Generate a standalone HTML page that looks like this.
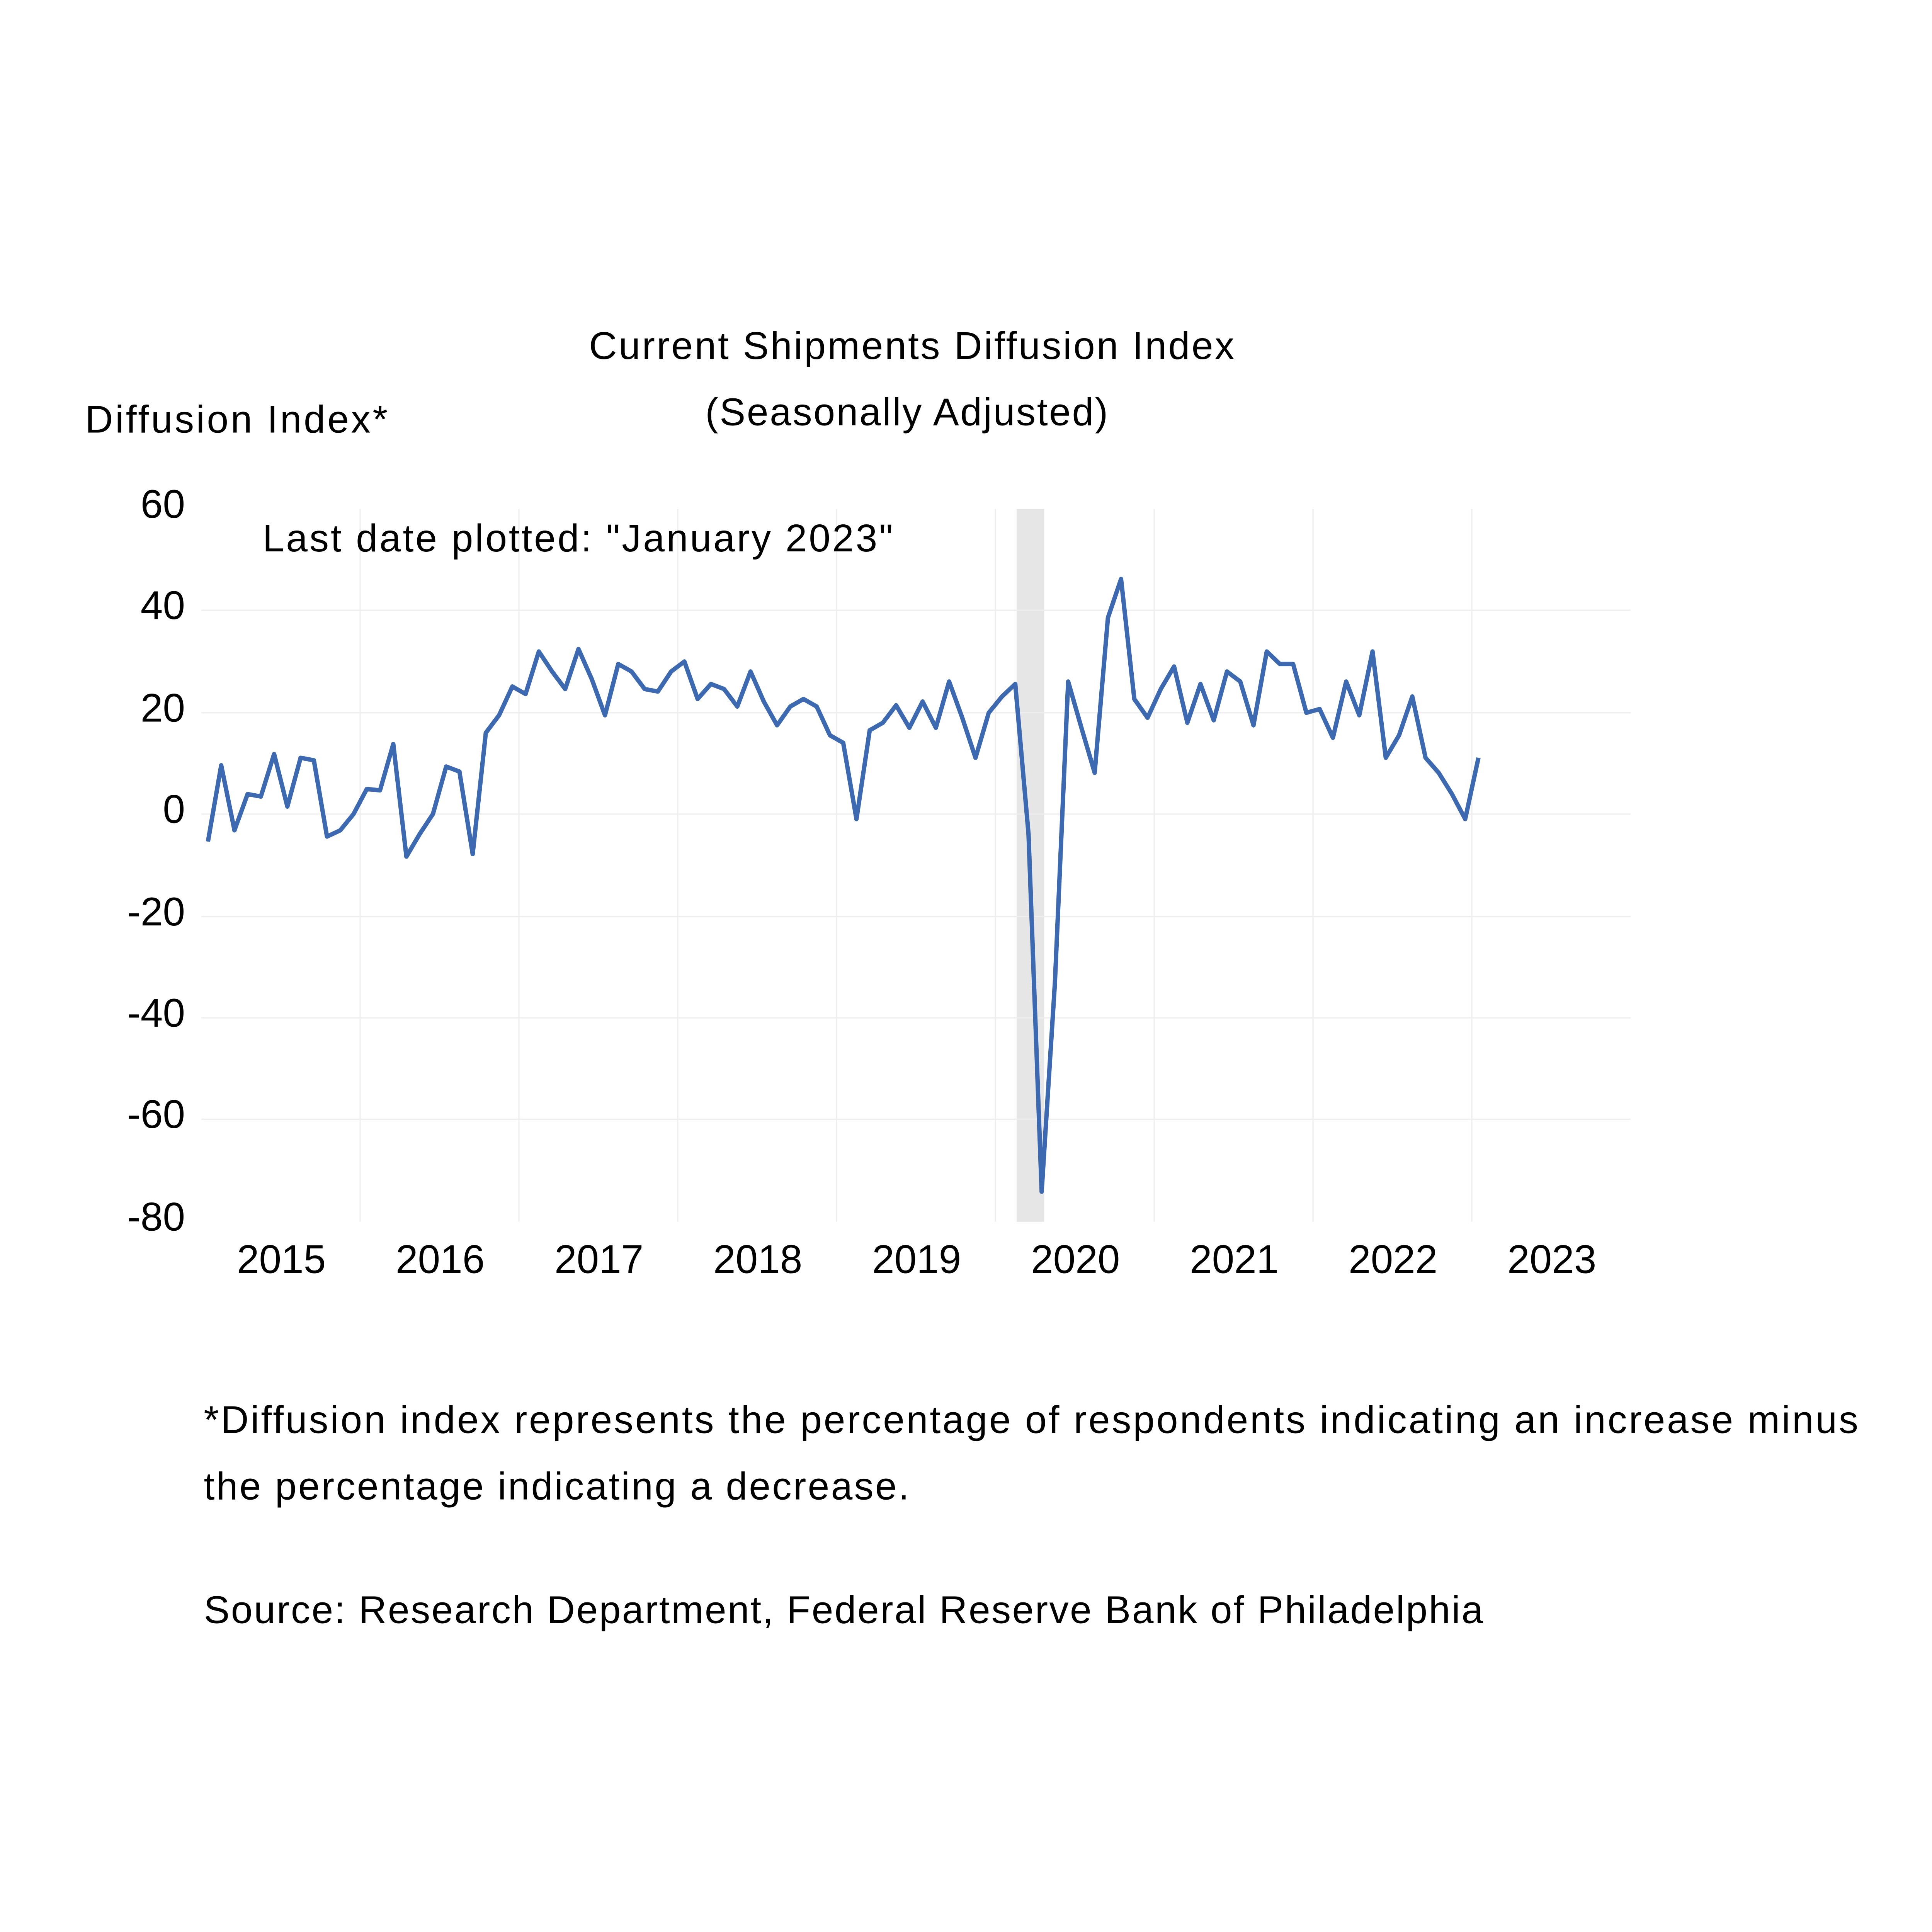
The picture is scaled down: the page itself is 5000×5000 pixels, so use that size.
<!DOCTYPE html>
<html><head><meta charset="utf-8"><style>html,body{margin:0;padding:0;background:#fff}svg{display:block}</style></head>
<body>
<svg width="5000" height="5000" viewBox="0 0 1545 1545" xmlns="http://www.w3.org/2000/svg" font-family="'Liberation Sans', sans-serif" fill="#000">
<rect width="1545" height="1545" fill="#fff"/>
<rect x="813" y="407" width="22" height="570" fill="#e6e6e6"/>
<g stroke="#eeeeee" stroke-width="1">
<line x1="161" y1="488" x2="1304" y2="488"/><line x1="161" y1="570" x2="1304" y2="570"/>
<line x1="161" y1="651" x2="1304" y2="651"/><line x1="161" y1="733" x2="1304" y2="733"/>
<line x1="161" y1="814" x2="1304" y2="814"/><line x1="161" y1="895" x2="1304" y2="895"/>
<line x1="288" y1="407" x2="288" y2="977"/><line x1="415" y1="407" x2="415" y2="977"/>
<line x1="542" y1="407" x2="542" y2="977"/><line x1="669" y1="407" x2="669" y2="977"/>
<line x1="796" y1="407" x2="796" y2="977"/><line x1="923" y1="407" x2="923" y2="977"/>
<line x1="1050" y1="407" x2="1050" y2="977"/><line x1="1177" y1="407" x2="1177" y2="977"/>
</g>
<polyline fill="none" stroke="#3c69b0" stroke-width="3.5" stroke-linejoin="round" points="
166.3,673 176.9,612 187.5,664 198.0,635 208.6,637 219.2,603 229.8,645 240.4,606 251.0,608 261.5,669 272.1,664 282.7,651
293.3,631 303.9,632 314.5,595 325.0,685 335.6,667 346.2,651 356.8,613 367.4,617 378.0,683 388.5,586 399.1,572 409.7,549
420.3,555 430.9,521 441.5,537 452.0,551 462.6,519 473.2,543 483.8,572 494.4,531 505.0,537 515.5,551 526.1,553 536.7,537
547.3,529 557.9,559 568.5,547 579.0,551 589.6,565 600.2,537 610.8,561 621.4,580 632.0,565 642.5,559 653.1,565 663.7,588
674.3,594 684.9,655 695.5,584 706.0,578 716.6,564 727.2,582 737.8,561 748.4,582 759.0,545 769.5,574 780.1,606 790.7,570
801.3,557 811.9,547 822.5,667 833.0,953 843.6,786 854.2,545 864.8,582 875.4,618 886.0,494 896.5,463 907.1,559 917.7,574
928.3,551 938.9,533 949.5,578 960.0,547 970.6,576 981.2,537 991.8,545 1002.4,580 1013.0,521 1023.5,531 1034.1,531 1044.7,570
1055.3,567 1065.9,590 1076.5,545 1087.0,572 1097.6,521 1108.2,606 1118.8,588 1129.4,557 1140.0,606 1150.5,618 1161.1,635 1171.7,655
1182.3,606"/>
<g font-size="31">
<text x="729" y="287" text-anchor="middle" textLength="516">Current Shipments Diffusion Index</text>
<text x="725" y="340" text-anchor="middle" textLength="322">(Seasonally Adjusted)</text>
<text x="68" y="346" textLength="242">Diffusion Index*</text>
<text x="210" y="441" textLength="504">Last date plotted: "January 2023"</text>
<text x="163" y="1146" textLength="1323">*Diffusion index represents the percentage of respondents indicating an increase minus</text>
<text x="163" y="1199" textLength="564">the percentage indicating a decrease.</text>
<text x="163" y="1298" textLength="1023">Source: Research Department, Federal Reserve Bank of Philadelphia</text>
</g>
<g font-size="32">
<g text-anchor="end">
<text x="148" y="414">60</text><text x="148" y="495">40</text><text x="148" y="577">20</text>
<text x="148" y="658">0</text><text x="148" y="740">-20</text><text x="148" y="821">-40</text>
<text x="148" y="902">-60</text><text x="148" y="984">-80</text></g>
<g text-anchor="middle">
<text x="225" y="1018">2015</text><text x="352" y="1018">2016</text><text x="479" y="1018">2017</text>
<text x="606" y="1018">2018</text><text x="733" y="1018">2019</text><text x="860" y="1018">2020</text>
<text x="987" y="1018">2021</text><text x="1114" y="1018">2022</text><text x="1241" y="1018">2023</text></g>
</g>
</svg>
</body></html>
